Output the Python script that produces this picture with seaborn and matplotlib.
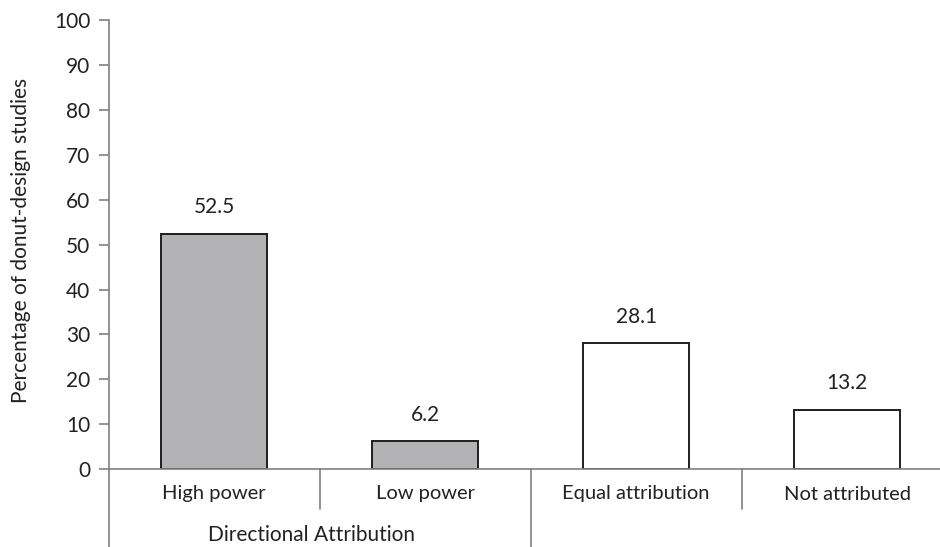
import matplotlib
matplotlib.use("Agg")
import matplotlib.pyplot as plt
import seaborn as sns
import pandas as pd

categories = ["High power", "Low power", "Equal attribution", "Not attributed"]
values = [52.5, 6.2, 28.1, 13.2]
groups = ["Directional", "Directional", "Other", "Other"]
group_label = "Directional Attribution"
y_ticks = [0, 10, 20, 30, 40, 50, 60, 70, 80, 90, 100]
ylabel = "Percentage of donut-design studies"

sns.set_theme(style="white")
plt.rcParams["font.family"] = ["Lato", "DejaVu Sans"]

df = pd.DataFrame({"cat": categories, "val": values, "grp": groups})

W, H = 940, 547
fig = plt.figure(figsize=(W / 100, H / 100), dpi=100)
left = 108.5 / W
bottom = (H - 469) / H
top = (H - 20.5) / H
ax = fig.add_axes([left, bottom, 1 - left, top - bottom])

palette = {"Directional": "#b2b3b7", "Other": "#ffffff"}
sns.barplot(data=df, x="cat", y="val", hue="grp", palette=palette, dodge=False,
            width=0.5, edgecolor="#1e1e1e", linewidth=1.4, legend=False, ax=ax)

ax.set_ylim(0, 100)
ax.set_xlim(-0.5, 3.44)
ax.set_yticks(y_ticks)
ax.set_yticklabels([str(t) for t in y_ticks], fontsize=15, color="#222222")
ax.tick_params(axis="y", direction="out", length=7, width=1.2, color="#808080", pad=6, left=True)
ax.tick_params(axis="x", length=0, labelbottom=False)
ax.set_xlabel("")
ax.set_ylabel(ylabel, fontsize=15, color="#222222", va="center", ha="center")
ax.yaxis.set_label_coords((21 - 108.5) / (W - 108.5), 0.51)

for s in ["top", "right"]:
    ax.spines[s].set_visible(False)
for s in ["left", "bottom"]:
    ax.spines[s].set_color("#808080")
    ax.spines[s].set_linewidth(1.2)

for i, v in enumerate(values):
    ax.annotate(f"{v}", (i, v), xytext=(0, 19), textcoords="offset points",
                ha="center", va="center", fontsize=15, color="#222222")

trans = ax.get_xaxis_transform()
line_kw = dict(color="#808080", lw=1.2, transform=trans, clip_on=False)
ybot_short = -(509 - 469) / (469 - 20.5)
ybot_long = -(547 - 469) / (469 - 20.5)
ax.plot([-0.5, -0.5], [0, ybot_long], **line_kw)
ax.plot([0.5, 0.5], [0, ybot_short], **line_kw)
ax.plot([1.5, 1.5], [0, ybot_long], **line_kw)
ax.plot([2.5, 2.5], [0, ybot_short], **line_kw)

ylab = -(494 - 469) / (469 - 20.5)
for i, c in enumerate(categories):
    ax.text(i, ylab, c, transform=trans, ha="center", va="center", fontsize=14.5, color="#222222")
ygl = -(535 - 469) / (469 - 20.5)
ax.text(0.46, ygl, group_label, transform=trans, ha="center", va="center", fontsize=15, color="#222222")

fig.savefig("out.png", dpi=100)
